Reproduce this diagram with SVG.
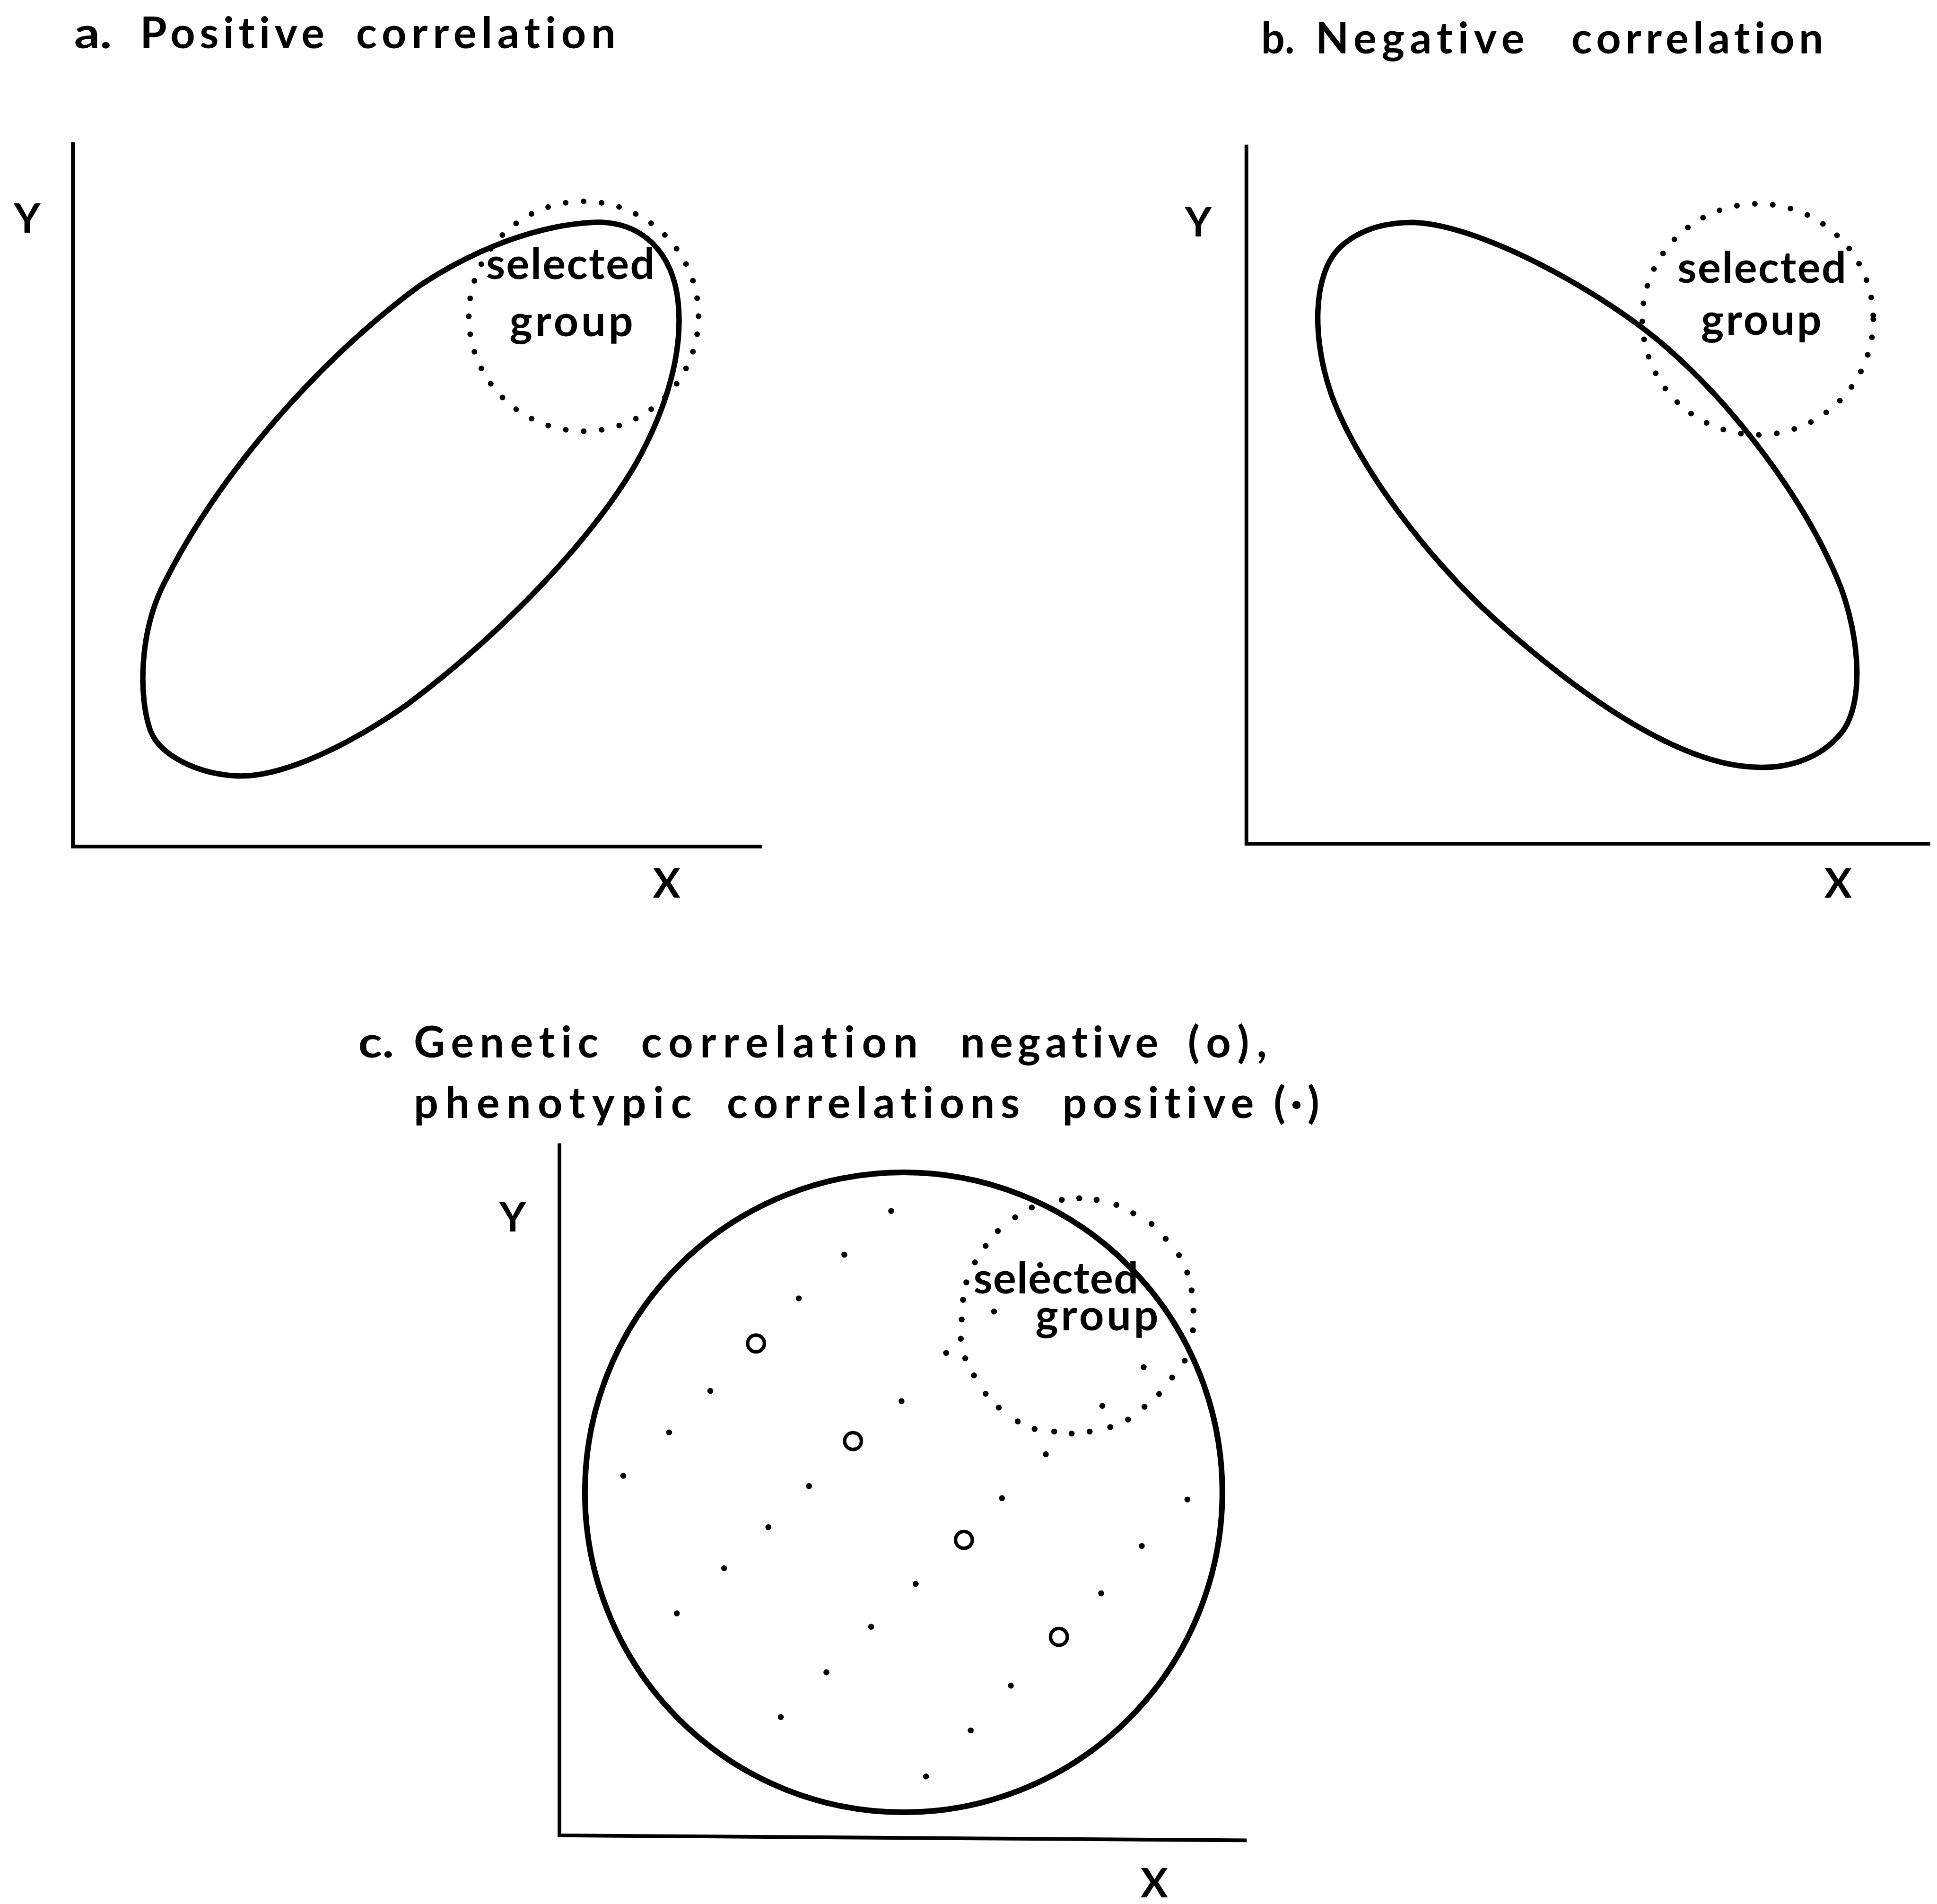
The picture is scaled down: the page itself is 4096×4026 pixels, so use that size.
<svg xmlns="http://www.w3.org/2000/svg" width="4096" height="4026" viewBox="0 0 4096 4026">
<style>
.ax{stroke:#000;stroke-width:3;fill:none;stroke-linecap:square;stroke-linejoin:miter}
.shape{stroke:#000;stroke-width:4.4;fill:none}
.ring{stroke:#000;stroke-width:4.6;fill:none;stroke-linecap:round;stroke-dasharray:0 14.6}
.t{font-family:Lato,"Open Sans","Liberation Sans",sans-serif;font-weight:700;fill:#000;font-variant-ligatures:none;font-feature-settings:"liga" 0,"clig" 0}
.ttl{font-size:35px}
.lbl{font-size:35px}
.axl{font-size:33px;text-anchor:middle}
.pt circle{fill:#000;r:2.4px}
.oc{fill:none;stroke:#000;stroke-width:2.8}
</style>
<rect width="4096" height="4026" fill="#fff"/>
<g transform="scale(2.6122)">
  <g id="panel-a">
    <text class="t ttl" y="39"><tspan x="60" textLength="30.5" lengthAdjust="spacingAndGlyphs">a.</tspan> <tspan x="113.4" textLength="149.2" lengthAdjust="spacing">Positive</tspan> <tspan x="288.3" textLength="210" lengthAdjust="spacing">correlation</tspan></text>
    <path class="ax" d="M59 116.5 V685.3 H615.5"/>
    <text class="t axl" x="22" y="188.5">Y</text>
    <text class="t axl" x="539.6" y="726.5">X</text>
    <path class="shape" d="M480 180 C520 178 545 205 549 245 C553 285 540 330 515 375 C480 435 410 510 330 570 C270 612 220 630 190 628 C160 626 130 612 122 592 C112 565 112 510 135 468 C180 380 260 290 340 231 C390 198 440 182 480 180 Z"/>
    <circle class="ring" cx="472.5" cy="256" r="93"/>
    <text class="t lbl" x="393.5" y="226" textLength="136.5" lengthAdjust="spacing">selected</text>
    <text class="t lbl" x="412.5" y="272" textLength="100" lengthAdjust="spacing">group</text>
  </g>
  <g id="panel-b">
    <text class="t ttl" y="43.3"><tspan x="1021" textLength="27" lengthAdjust="spacingAndGlyphs">b.</tspan> <tspan x="1065" textLength="169" lengthAdjust="spacing">Negative</tspan> <tspan x="1272" textLength="204" lengthAdjust="spacing">correlation</tspan></text>
    <path class="ax" d="M1009 118.5 V683 H1561"/>
    <text class="t axl" x="970" y="191.5">Y</text>
    <text class="t axl" x="1488" y="726.5">X</text>
    <path class="shape" d="M1144 180 C1200 182 1300 238 1350 282 C1400 326 1460 400 1490 475 C1505 515 1510 570 1490 594 C1470 618 1440 622 1422 621 C1370 620 1300 580 1220 510 C1160 458 1100 380 1078 320 C1062 275 1062 222 1085 200 C1100 186 1120 180 1144 180 Z"/>
    <circle class="ring" cx="1423" cy="258.5" r="93.5"/>
    <text class="t lbl" x="1358" y="229" textLength="136.5" lengthAdjust="spacing">selected</text>
    <text class="t lbl" x="1377" y="271" textLength="97.5" lengthAdjust="spacing">group</text>
  </g>
  <g id="panel-c">
    <text class="t ttl" y="856"><tspan x="290" textLength="29" lengthAdjust="spacingAndGlyphs">c.</tspan> <tspan x="335" textLength="149.5" lengthAdjust="spacing">Genetic</tspan> <tspan x="519" textLength="224" lengthAdjust="spacing">correlation</tspan> <tspan x="777.6" textLength="160" lengthAdjust="spacing">negative</tspan> <tspan x="961.5" textLength="64" lengthAdjust="spacing">(o),</tspan></text>
    <text class="t ttl" y="905"><tspan x="335" textLength="225" lengthAdjust="spacing">phenotypic</tspan> <tspan x="588.4" textLength="237" lengthAdjust="spacing">correlations</tspan> <tspan x="860" textLength="155" lengthAdjust="spacing">positive</tspan> <tspan x="1031" textLength="37" lengthAdjust="spacing">(·)</tspan></text>
    <path class="ax" d="M452.9 927 V1485.7 L1007.7 1489.7"/>
    <text class="t axl" x="415" y="997">Y</text>
    <text class="t axl" x="934.4" y="1536">X</text>
    <ellipse class="shape" cx="731.5" cy="1208" rx="258" ry="259" style="stroke-width:4.6"/>
    <g id="selected-ring-c" class="pt">
      <circle cx="859.5" cy="971.2" r="2.4"/><circle cx="873.7" cy="970.0" r="2.4"/><circle cx="887.7" cy="971.2" r="2.4"/><circle cx="903.7" cy="975.3" r="2.4"/>
      <circle cx="917.4" cy="982.1" r="2.4"/><circle cx="932.2" cy="990.7" r="2.4"/><circle cx="943.6" cy="1002.7" r="2.4"/><circle cx="954.4" cy="1016.0" r="2.4"/>
      <circle cx="961.1" cy="1030.1" r="2.4"/><circle cx="964.6" cy="1044.5" r="2.4"/><circle cx="966.1" cy="1060.9" r="2.4"/><circle cx="965.7" cy="1076.8" r="2.4"/>
      <circle cx="959.0" cy="1101.4" r="2.4"/><circle cx="948.9" cy="1115.1" r="2.4"/><circle cx="938.3" cy="1128.4" r="2.4"/><circle cx="926.5" cy="1138.7" r="2.4"/>
      <circle cx="913.1" cy="1149.1" r="2.4"/><circle cx="898.7" cy="1155.2" r="2.4"/><circle cx="882.1" cy="1158.8" r="2.4"/><circle cx="867.5" cy="1160.4" r="2.4"/>
      <circle cx="853.4" cy="1158.8" r="2.4"/><circle cx="837.5" cy="1156.7" r="2.4"/><circle cx="823.8" cy="1150.6" r="2.4"/><circle cx="808.5" cy="1139.4" r="2.4"/>
      <circle cx="797.9" cy="1128.2" r="2.4"/><circle cx="788.4" cy="1113.3" r="2.4"/><circle cx="781.4" cy="1099.5" r="2.4"/><circle cx="777.8" cy="1083.7" r="2.4"/>
      <circle cx="778.5" cy="1068.1" r="2.4"/><circle cx="779.6" cy="1052.2" r="2.4"/><circle cx="782.3" cy="1038.0" r="2.4"/><circle cx="789.2" cy="1021.8" r="2.4"/>
      <circle cx="797.9" cy="1008.5" r="2.4"/><circle cx="807.8" cy="996.5" r="2.4"/><circle cx="821.8" cy="985.4" r="2.4"/><circle cx="835.2" cy="977.4" r="2.4"/>
    </g>
    <g id="phenotypic-points" class="pt">
      <circle cx="842.0" cy="1024.0" r="2.4"/><circle cx="804.7" cy="1061.6" r="2.4"/><circle cx="765.9" cy="1095.2" r="2.4"/><circle cx="925.8" cy="1106.7" r="2.4"/><circle cx="892.3" cy="1138.0" r="2.4"/>
      <circle cx="721.4" cy="980.2" r="2.4"/><circle cx="683.5" cy="1015.6" r="2.4"/><circle cx="646.6" cy="1051" r="2.4"/><circle cx="575" cy="1125.9" r="2.4"/>
      <circle cx="541.7" cy="1159.5" r="2.4"/><circle cx="504.5" cy="1194.6" r="2.4"/><circle cx="729.8" cy="1134.2" r="2.4"/><circle cx="654.9" cy="1202.9" r="2.4"/>
      <circle cx="622" cy="1236.2" r="2.4"/><circle cx="586.2" cy="1269.4" r="2.4"/><circle cx="547.9" cy="1306" r="2.4"/><circle cx="846.6" cy="1177.2" r="2.4"/>
      <circle cx="811.1" cy="1212.7" r="2.4"/><circle cx="741.3" cy="1282.1" r="2.4"/><circle cx="705.2" cy="1316.8" r="2.4"/><circle cx="669" cy="1353.7" r="2.4"/>
      <circle cx="632.1" cy="1389.9" r="2.4"/><circle cx="961.2" cy="1213.8" r="2.4"/><circle cx="924.3" cy="1251.4" r="2.4"/><circle cx="891.4" cy="1289.7" r="2.4"/>
      <circle cx="818.3" cy="1364.5" r="2.4"/><circle cx="785.8" cy="1400.7" r="2.4"/><circle cx="749.6" cy="1438" r="2.4"/>
    </g>
    <g id="genetic-points">
      <circle class="oc" cx="612" cy="1087.5" r="6.8"/>
      <circle class="oc" cx="690.5" cy="1166.5" r="6.8"/>
      <circle class="oc" cx="780.3" cy="1246.5" r="6.8"/>
      <circle class="oc" cx="857.2" cy="1325" r="6.8"/>
    </g>
    <text class="t lbl" x="788" y="1047" textLength="133.5" lengthAdjust="spacing">selected</text>
    <text class="t lbl" x="838.2" y="1077" textLength="99.5" lengthAdjust="spacing">group</text>
  </g>
</g>
</svg>
